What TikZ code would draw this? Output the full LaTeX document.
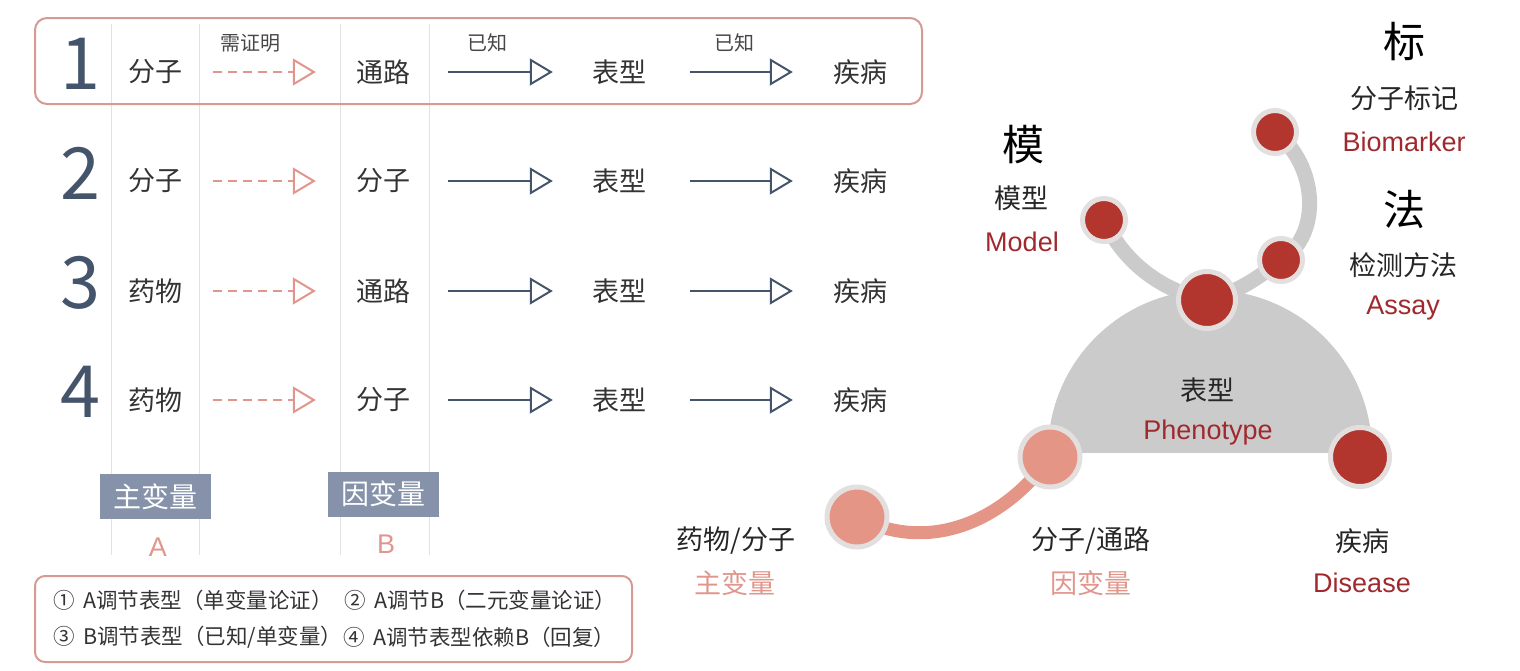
\documentclass[tikz,border=0pt]{standalone}
\usepackage{fontspec}
\setmainfont{Noto Sans CJK SC}
\newfontfamily\latinfont{Liberation Sans}
\usetikzlibrary{arrows.meta,backgrounds}
\definecolor{salmon}{HTML}{E0968C}
\definecolor{boxline}{HTML}{D69A93}
\definecolor{slate}{HTML}{44546A}
\definecolor{varfill}{HTML}{8592AA}
\definecolor{dkred}{HTML}{A0292E}
\definecolor{redc}{HTML}{B2362D}
\definecolor{pinkc}{HTML}{E59585}
\definecolor{ringc}{HTML}{E4DFDF}
\definecolor{lgrey}{HTML}{CBCBCB}
\definecolor{txtc}{HTML}{333333}
\definecolor{vline}{HTML}{E2E2E2}
\begin{document}
\begin{tikzpicture}[x=1pt,y=-1pt,
  lbl/.style={inner sep=0pt, text=txtc, font=\fontsize{27}{30}\selectfont},
  small/.style={inner sep=0pt, text=txtc!90, font=\fontsize{20}{24}\selectfont},
  num/.style={inner sep=0pt, text=slate, font=\fontsize{72}{80}\selectfont},
  darr/.style={draw=salmon, line width=2pt, dash pattern=on 8.5pt off 6.5pt, -{Triangle[open,length=23pt,width=27pt]}},
  sarr/.style={draw=slate, line width=2pt, -{Triangle[open,length=23pt,width=27pt]}},
  varbox/.style={fill=varfill, text=white, inner sep=0pt, minimum width=111pt, minimum height=45pt, font=\fontsize{28}{32}\selectfont},
  abl/.style={inner sep=0pt, text=salmon, font=\latinfont\fontsize{27}{30}\selectfont},
  note/.style={inner sep=0pt, anchor=west, text=txtc, font=\fontsize{21.5}{24}\selectfont},
  rlbl/.style={inner sep=0pt, text=black!85, font=\fontsize{27}{30}\selectfont},
  big/.style={inner sep=0pt, text=black, font=\fontsize{42}{46}\selectfont},
  enl/.style={inner sep=0pt, text=dkred, font=\latinfont\fontsize{27}{30}\selectfont},
  pkl/.style={inner sep=0pt, text=salmon, font=\fontsize{27}{30}\selectfont},
  dot/.style={circle, draw=ringc, line width=5pt, inner sep=0pt},
  garc/.style={draw=lgrey, line width=15pt, line cap=round},
  parc/.style={draw=pinkc, line width=13pt, line cap=round}]
\useasboundingbox (0,0) rectangle (1520,670);
% vertical separators
\foreach \x in {111,199,340,429}{\draw[vline, line width=0.9pt] (\x,24) -- (\x,555);}
% row 1 frame
\draw[boxline, line width=2pt, rounded corners=12pt] (35,18) rectangle (922,104);
% rows
\foreach \i/\y/\a/\b in {1/72/分子/通路, 2/181/分子/分子, 3/291/药物/通路, 4/400/药物/分子}{
  \node[num] (n\i) at (80,\y-8) {\i};
  \node[lbl] (a\i) at (155,\y) {\a};
  \node[lbl] (b\i) at (383,\y) {\b};
  \node[lbl] (c\i) at (619,\y) {表型};
  \node[lbl] (d\i) at (860,\y) {疾病};
  \draw[darr, shorten <=31pt, shorten >=40pt] (a\i) -- (b\i);
  \draw[sarr, shorten <=38pt, shorten >=39pt] (b\i) -- (c\i);
  \draw[sarr, shorten <=44pt, shorten >=40pt] (c\i) -- (d\i);
}
\node[small] (q1) at (250,43) {需证明};
\node[small] (k1) at (487,43) {已知};
\node[small] (k2) at (734,43) {已知};
% variable boxes
\node[varbox] (zv) at (155.5,496.5) {主变量};
\node[varbox] (yv) at (383.5,494) {因变量};
\node[abl] (la) at (158,547) {A};
\node[abl] (lb) at (386,544) {B};
% notes box
\draw[boxline, line width=2pt, rounded corners=10pt] (35,576) rectangle (632,662);
\node[note] (t1) at (53,600) {①\hspace{0.4em}A调节表型（单变量论证）};
\node[note] (t2) at (344,600) {②\hspace{0.4em}A调节B（二元变量论证）};
\node[note] (t3) at (53,637) {③\hspace{0.4em}B调节表型（已知/单变量）};
\node[note] (t4) at (343,637) {④\hspace{0.4em}A调节表型依赖B（回复）};
% right diagram nodes
\node[dot, fill=redc, minimum size=57pt] (top) at (1207,300) {};
\node[dot, fill=redc, minimum size=43pt] (mo) at (1104,220) {};
\node[dot, fill=redc, minimum size=43pt] (bm) at (1275,132) {};
\node[dot, fill=redc, minimum size=43pt] (as) at (1281,260) {};
\node[dot, fill=redc, minimum size=59pt] (di) at (1360,457) {};
\node[dot, fill=pinkc, minimum size=60pt] (rp) at (1050,457) {};
\node[dot, fill=pinkc, minimum size=60pt] (lp) at (857,517) {};
\begin{scope}[on background layer]
  \begin{scope}
    \clip (1000,280) rectangle (1420,452);
    \fill[lgrey] (1210,452) circle[radius=162];
  \end{scope}
  \draw[garc] (mo.center) .. controls (1125,265) and (1165,292) .. (top.center);
  \draw[garc] (bm.center) .. controls (1318,165) and (1322,235) .. (as.center);
  \draw[garc] (as.center) .. controls (1252,283) and (1232,294) .. (top.center);
  \draw[parc] (lp.center) .. controls (930,555) and (1005,520) .. (rp.center);
\end{scope}
% right labels
\node[big] (hb) at (1404,42) {标};
\node[rlbl] (bz) at (1404,98) {分子标记};
\node[enl] (be) at (1404,142) {Biomarker};
\node[big] (hf) at (1404,210) {法};
\node[rlbl] (fz) at (1403,265) {检测方法};
\node[enl] (fe) at (1403,308) {Assay};
\node[big] (hm) at (1023,145) {模};
\node[rlbl] (mz) at (1021,198) {模型};
\node[enl] (me) at (1022,242) {Model};
\node[rlbl] (pz) at (1207,390) {表型};
\node[enl] (pe) at (1208,433) {Phenotype};
\node[rlbl] (yz) at (736,541) {药物/分子};
\node[pkl] (yzz) at (735,583) {主变量};
\node[rlbl] (tz) at (1091,541) {分子/通路};
\node[pkl] (tzz) at (1091,583) {因变量};
\node[rlbl] (jz) at (1362,541) {疾病};
\node[enl] (je) at (1362,583) {Disease};
\end{tikzpicture}
\end{document}
